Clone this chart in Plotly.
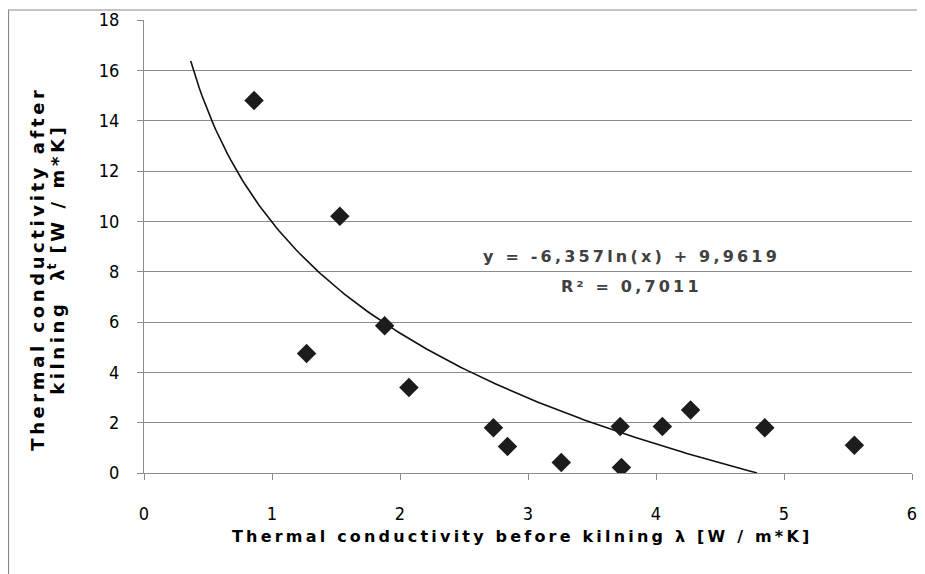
import numpy as np
import plotly.graph_objects as go

# Data
lambda_before = [0.86, 1.27, 1.53, 1.88, 2.07, 2.73, 2.84, 3.26, 3.72, 3.73, 4.05, 4.27, 4.85, 5.55]
lambda_after = [14.8, 4.75, 10.2, 5.85, 3.4, 1.8, 1.05, 0.42, 1.85, 0.22, 1.85, 2.5, 1.8, 1.1]

# Logarithmic trend line as printed on the chart
trend_a = -6.357
trend_b = 9.9619
trend_x_start = 0.365
trend_x_end = 4.79

x_ticks = [0, 1, 2, 3, 4, 5, 6]
y_ticks = [0, 2, 4, 6, 8, 10, 12, 14, 16, 18]

x_title = "Thermal conductivity before kilning λ [W / m*K]"
y_title_1 = "Thermal conductivity after"
y_title_2 = "kilning  λ"
y_title_sub = "t"
y_title_3 = " [W / m*K]"
eq_line_1 = "y = -6,357ln(x) + 9,9619"
eq_line_2 = "R² = 0,7011"

TS = "\u2009"


def spaced(s):
    # emulate the letter spacing of the original titles with thin spaces
    return TS.join(list(s))


tx = np.linspace(trend_x_start, trend_x_end, 200)
ty = trend_a * np.log(tx) + trend_b

# page has an 8px body margin; plot area target: x 144..912, y 20..473.5 (page px)
OFF = 8
L, R, T, B = 144 - OFF, 925 + OFF - 912, 20 - OFF, 574 + OFF - 473.5
PW, PH = 912 - 144, 473.5 - 20


def px(xp):
    return (xp - 144) / PW


def py(yp):
    return (473.5 - yp) / PH


tick_font = dict(family="Liberation Sans Narrow, DejaVu Sans Condensed, sans-serif", size=18, color="#000000")
bold_family = "DejaVu Sans, Verdana, sans-serif"

fig = go.Figure()
fig.add_trace(go.Scatter(x=tx, y=ty, mode="lines", line=dict(color="#111111", width=1.6),
                         hoverinfo="skip", showlegend=False))
fig.add_trace(go.Scatter(x=lambda_before, y=lambda_after, mode="markers",
                         marker=dict(symbol="diamond", size=15, color="#1c1c1c"),
                         showlegend=False))

fig.update_layout(
    width=925, height=574,
    margin=dict(l=L, r=R, t=T, b=B, autoexpand=False),
    paper_bgcolor="white", plot_bgcolor="white",
    showlegend=False,
)
fig.update_xaxes(range=[0, 6], tickvals=x_ticks, ticktext=[str(v) for v in x_ticks],
                 showgrid=False, zeroline=False, showline=True, linecolor="#8c8c8c", linewidth=1,
                 ticks="outside", ticklen=6, tickcolor="#8c8c8c", tickfont=tick_font,
                 ticklabelstandoff=18, automargin=False)
fig.update_yaxes(range=[0, 18], tickvals=y_ticks, ticktext=[str(v) for v in y_ticks],
                 showgrid=True, gridcolor="#8c8c8c", gridwidth=1, zeroline=False,
                 showline=True, linecolor="#8c8c8c", linewidth=1,
                 ticks="outside", ticklen=6, tickcolor="#8c8c8c", tickfont=tick_font,
                 ticklabelstandoff=14, automargin=False)

# outer frame (chart area border)
fig.add_shape(type="rect", xref="paper", yref="paper", x0=px(8.5), x1=1.5, y0=-1.5, y1=py(10),
              line=dict(color="#888888", width=1.2), fillcolor="rgba(0,0,0,0)", layer="below")

fig.add_annotation(text="<b>" + spaced(x_title) + "</b>",
                   xref="paper", yref="paper", x=px(520), y=py(537),
                   showarrow=False, font=dict(family=bold_family, size=16, color="#000000"),
                   xanchor="center", yanchor="middle")
fig.add_annotation(text="<b>" + spaced(y_title_1) + "</b>",
                   xref="paper", yref="paper", x=px(38), y=py(271),
                   showarrow=False, textangle=-90, font=dict(family=bold_family, size=18, color="#000000"),
                   xanchor="center", yanchor="middle")
fig.add_annotation(text="<b>" + spaced(y_title_2) + "<sup>" + y_title_sub + "</sup>" + spaced(y_title_3) + "</b>",
                   xref="paper", yref="paper", x=px(56), y=py(262),
                   showarrow=False, textangle=-90, font=dict(family=bold_family, size=18, color="#000000"),
                   xanchor="center", yanchor="middle")
fig.add_annotation(text="<b>" + spaced(eq_line_1) + "</b>",
                   xref="paper", yref="paper", x=px(630), y=py(257),
                   showarrow=False, font=dict(family=bold_family, size=16, color="#404040"),
                   xanchor="center", yanchor="middle")
fig.add_annotation(text="<b>" + spaced(eq_line_2) + "</b>",
                   xref="paper", yref="paper", x=px(630), y=py(287),
                   showarrow=False, font=dict(family=bold_family, size=16, color="#404040"),
                   xanchor="center", yanchor="middle")

fig.write_html("out.html")
